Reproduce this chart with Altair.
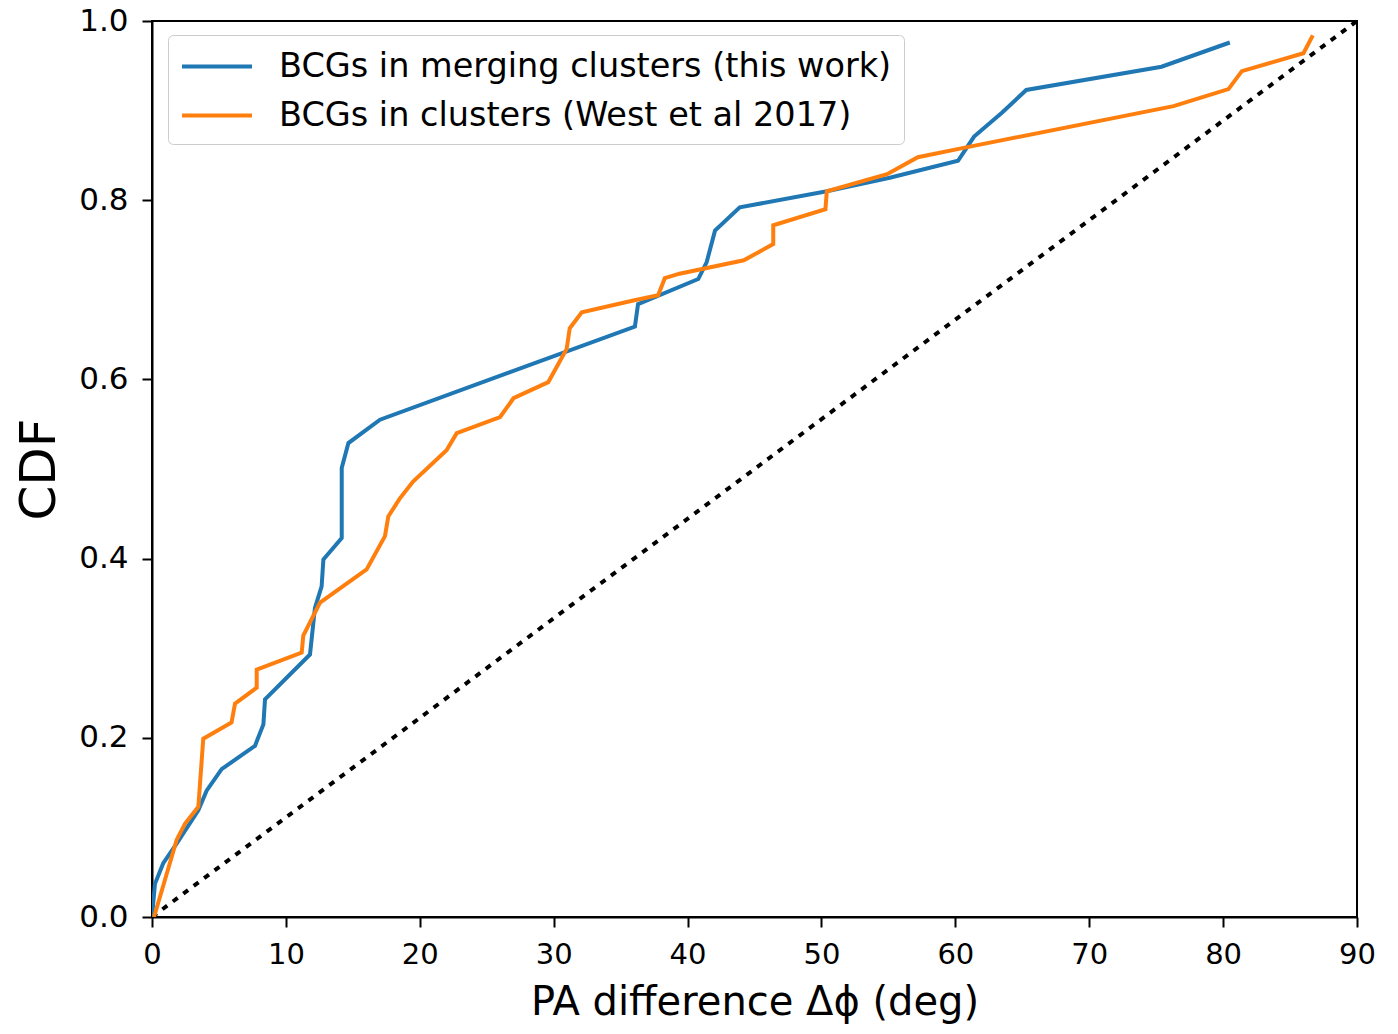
import altair as alt
import pandas as pd

# Blue: BCGs in merging clusters (this work)
blue_x = [0.0, 0.22, 0.84, 1.84, 3.46, 4.08, 5.2, 7.69, 8.32, 8.44, 11.8, 12.17, 12.67, 12.8,
          14.17, 14.17, 14.67, 17.03, 36.07, 36.3, 40.8, 41.43, 42.05, 43.9, 50.4, 55.1,
          60.2, 61.4, 63.5, 65.3, 75.4, 80.5]
blue_y = [0.0, 0.037, 0.06, 0.082, 0.119, 0.141, 0.165, 0.191, 0.215, 0.243, 0.293, 0.345, 0.369, 0.399,
          0.423, 0.501, 0.529, 0.555, 0.659, 0.684, 0.712, 0.731, 0.766, 0.792, 0.81, 0.825,
          0.844, 0.871, 0.898, 0.923, 0.949, 0.976]

# Orange: BCGs in clusters (West et al 2017)
orange_x = [0.15, 0.35, 1.84, 2.46, 3.46, 3.83, 5.94, 6.2, 7.82, 7.82, 11.18, 11.3, 12.55, 16.03,
            17.4, 17.65, 18.5, 19.5, 22.0, 22.76, 26.0, 27.0, 29.6, 30.97, 31.2, 32.1, 35.95,
            37.8, 38.3, 39.4, 44.2, 46.4, 46.4, 50.3, 50.4, 54.9, 57.2, 60.8, 76.3, 80.4, 81.4,
            86.0, 86.7]
orange_y = [0.0, 0.01, 0.086, 0.104, 0.123, 0.199, 0.217, 0.238, 0.256, 0.276, 0.295, 0.314, 0.351, 0.388,
            0.425, 0.447, 0.467, 0.486, 0.521, 0.54, 0.558, 0.579, 0.597, 0.634, 0.657, 0.675, 0.688,
            0.694, 0.713, 0.718, 0.733, 0.751, 0.772, 0.79, 0.81, 0.829, 0.848, 0.859, 0.905, 0.924, 0.944,
            0.964, 0.984]

diag_x = [0, 90]
diag_y = [0.0, 1.0]

series_names = ["BCGs in merging clusters (this work)", "BCGs in clusters (West et al 2017)"]
series_colors = ["#1f77b4", "#ff7f0e"]
x_ticks = [0, 10, 20, 30, 40, 50, 60, 70, 80, 90]
y_ticks = [0.0, 0.2, 0.4, 0.6, 0.8, 1.0]

rows = []
for i, (a, b) in enumerate(zip(blue_x, blue_y)):
    rows.append({"x": a, "y": b, "series": series_names[0], "idx": i})
for i, (a, b) in enumerate(zip(orange_x, orange_y)):
    rows.append({"x": a, "y": b, "series": series_names[1], "idx": i})
df = pd.DataFrame(rows)
diag = pd.DataFrame({"x": diag_x, "y": diag_y})

FONT = "DejaVu Sans"

xscale = alt.Scale(domain=[0, 90], nice=False, zero=False)
yscale = alt.Scale(domain=[0, 1], nice=False, zero=False)

xaxis = alt.Axis(values=x_ticks, title="PA difference Δϕ (deg)", format="d",
                 labelFontSize=29, titleFontSize=40, grid=False,
                 tickSize=10, tickWidth=2, tickColor="black", domainColor="black", domainWidth=2,
                 labelPadding=13, titlePadding=13, labelColor="black", titleColor="black",
                 labelFont=FONT, titleFont=FONT, titleFontWeight="normal", labelFlush=False)
yaxis = alt.Axis(values=y_ticks, title="CDF", format=".1f",
                 labelFontSize=31, titleFontSize=50, grid=False,
                 tickSize=10, tickWidth=2, tickColor="black", domainColor="black", domainWidth=2,
                 labelPadding=14, titlePadding=14, labelColor="black", titleColor="black",
                 labelFont=FONT, titleFont=FONT, titleFontWeight="normal", labelFlush=False)

lines = alt.Chart(df).mark_line(strokeWidth=4, clip=True).encode(
    x=alt.X("x:Q", scale=xscale, axis=xaxis),
    y=alt.Y("y:Q", scale=yscale, axis=yaxis),
    color=alt.Color("series:N",
                    scale=alt.Scale(domain=series_names, range=series_colors),
                    legend=alt.Legend(title=None, orient="none", legendX=16, legendY=14,
                                      symbolType="M-1,0H3", symbolSize=1225, symbolStrokeWidth=4,
                                      labelFontSize=33.5, labelFont=FONT, labelColor="black",
                                      labelOffset=60, padding=12, rowPadding=13,
                                      fillColor="white", strokeColor="#cccccc", cornerRadius=5,
                                      labelLimit=1000)),
    order=alt.Order("idx:Q"),
)

diagonal = alt.Chart(diag).mark_line(color="black", strokeWidth=4, strokeDash=[6, 7]).encode(
    x=alt.X("x:Q", scale=xscale),
    y=alt.Y("y:Q", scale=yscale),
)

chart = (diagonal + lines).properties(
    width=1205, height=896,
    autosize=alt.AutoSizeParams(type="none"),
    padding={"left": 144, "top": 13, "right": 25, "bottom": 109},
).configure_view(stroke="black", strokeWidth=2)

chart.save("out.html", embed_options={"renderer": "svg", "actions": False})
